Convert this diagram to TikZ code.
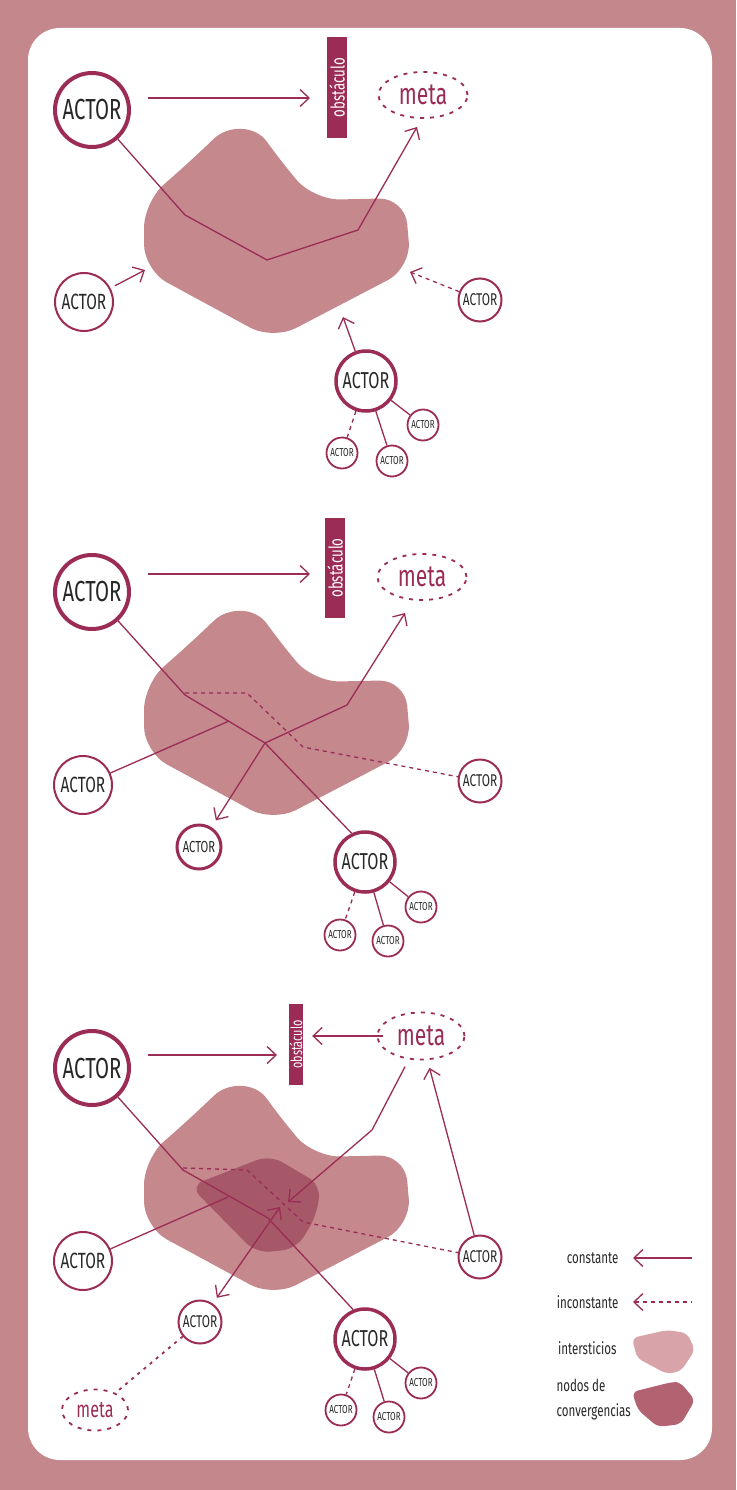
\documentclass[tikz,border=0pt]{standalone}
\usepackage{fontspec}
\usepackage{tikz}
\usetikzlibrary{calc,shapes.geometric,arrows.meta}

\definecolor{frame}{RGB}{196,136,140}
\definecolor{wine}{RGB}{155,44,86}
\definecolor{blobpink}{RGB}{196,136,141}
\definecolor{nodepink}{RGB}{166,88,104}
\definecolor{legendlight}{RGB}{216,163,169}
\definecolor{legenddark}{RGB}{178,98,112}
\definecolor{ink}{RGB}{40,40,40}

\newfontfamily\agency{Fira Sans}[FakeStretch=0.7]
\newcommand\fsz[1]{\agency\fontsize{#1}{#1}\selectfont}

% interstice shape, shifted down by #1
\newcommand\blob[1]{%
  \fill[blobpink,rounded corners=26pt,shift={(0,#1)}]
    (195,157) .. controls (228,125) and (255,125) .. (282,163) -- (314,200)
    -- (405,198) -- (411,268) -- (273,340) -- (144,270) -- (144,202) -- cycle;}

\begin{document}
\begin{tikzpicture}[x=1pt,y=-1pt,>={Straight Barb[length=9pt,width=17pt]},
    link/.style={wine,line width=1.3pt},
    dashlink/.style={link,dash pattern=on 4pt off 4pt},
    actor/.style={circle,draw=wine,fill=white,inner sep=0pt,text=ink},
    bigactor/.style={actor,line width=4pt,minimum size=74pt,font=\fsz{29}},
    midactor/.style={actor,line width=3.5pt,minimum size=60pt,font=\fsz{23}},
    sideactor/.style={actor,line width=2pt,minimum size=58pt,font=\fsz{22}},
    smallactor/.style={actor,line width=2pt,minimum size=43pt,font=\fsz{17}},
    tinyactor/.style={actor,line width=1.8pt,minimum size=31pt,font=\fsz{11.5}},
    metabox/.style={ellipse,draw=wine,line width=1.8pt,dash pattern=on 4pt off 6pt,
      text=wine,inner sep=0pt},
    obst/.style={rectangle,fill=wine,text=white,rotate=90,inner sep=0pt}]

    % --- 0. Frame ---
    \fill[frame] (0,0) rectangle (736,1490);
    \fill[white,rounded corners=32pt] (28,28) rectangle (712,1460);

    % --- 1. First stage ---
    \blob{0}

    \node[bigactor] (A1) at (92,110) {ACTOR};
    \node[obst,minimum width=101pt,minimum height=20pt,font=\fsz{19}] (Obs1) at (337,87.5) {obstáculo};
    \node[metabox,minimum width=89pt,minimum height=46pt,font=\fsz{30}] (Meta1) at (423,95) {meta};
    \node[sideactor] (L1) at (84,302) {ACTOR};
    \node[smallactor] (R1) at (480,300) {ACTOR};
    \node[midactor] (B1) at (366,381) {ACTOR};
    \node[tinyactor] (B1a) at (423,425) {ACTOR};
    \node[tinyactor] (B1b) at (392,461) {ACTOR};
    \node[tinyactor] (B1c) at (342,453) {ACTOR};

    \coordinate (Go1) at (148,98);
    \coordinate (Stop1) at (310,98);
    \coordinate (P1a) at (185,215);
    \coordinate (P1b) at (267,260);
    \coordinate (P1c) at (358,230);
    \coordinate (P1tip) at (417,127);
    \coordinate (In1L) at (145,270);
    \coordinate (In1R) at (410,272);
    \coordinate (In1B) at (343,317);

    \draw[link,->] (Go1) -- (Stop1);
    \draw[link,->] (A1) -- (P1a) -- (P1b) -- (P1c) -- (P1tip);
    \draw[link,->,shorten <=5pt] (L1) -- (In1L);
    \draw[dashlink,->] (R1) -- (In1R);
    \draw[link,->] (B1) -- (In1B);
    \draw[link] (B1) -- (B1a);
    \draw[link] (B1) -- (B1b);
    \draw[dashlink] (B1) -- (B1c);

    % --- 2. Second stage ---
    \blob{482}

    \node[bigactor] (A2) at (92,592) {ACTOR};
    \node[obst,minimum width=100pt,minimum height=20pt,font=\fsz{19}] (Obs2) at (335,568) {obstáculo};
    \node[metabox,minimum width=89pt,minimum height=46pt,font=\fsz{30}] (Meta2) at (422,577) {meta};
    \node[sideactor] (L2) at (83,785) {ACTOR};
    \node[smallactor] (R2) at (480,781) {ACTOR};
    \node[actor,line width=3pt,minimum size=44pt,font=\fsz{16}] (S2) at (199,847) {ACTOR};
    \node[midactor] (B2) at (365,862) {ACTOR};
    \node[tinyactor] (B2a) at (421,907) {ACTOR};
    \node[tinyactor] (B2b) at (388,941) {ACTOR};
    \node[tinyactor] (B2c) at (340,935) {ACTOR};

    \coordinate (Go2) at (148,574);
    \coordinate (Stop2) at (310,574);
    \coordinate (P2a) at (185,695);
    \coordinate (P2b) at (265,743);
    \coordinate (P2c) at (347,705);
    \coordinate (P2tip) at (405,613);
    \coordinate (P2l) at (229,721);
    \coordinate (Q2a) at (185,693);
    \coordinate (Q2b) at (247,693);
    \coordinate (Q2c) at (303,747);

    \draw[link,->] (Go2) -- (Stop2);
    \draw[link] (A2) -- (P2a) -- (P2b) -- (B2.115);
    \draw[link] (L2) -- (P2l);
    \draw[dashlink] (Q2a) -- (Q2b) -- (Q2c) -- (R2);
    \draw[link,<->,shorten <=8pt] (S2) -- (P2b) -- (P2c) -- (P2tip);
    \draw[link] (B2) -- (B2a);
    \draw[link] (B2) -- (B2b);
    \draw[dashlink] (B2) -- (B2c);

    % --- 3. Third stage ---
    \blob{957}
    \fill[nodepink,rounded corners=14pt]
      (190,1186) -- (270,1155) -- (321,1185) -- (316,1217) -- (296,1249) -- (256,1253) -- cycle;

    \node[bigactor] (A3) at (92,1068) {ACTOR};
    \node[obst,minimum width=81pt,minimum height=14pt,font=\fsz{15.5}] (Obs3) at (296,1044.5) {obstáculo};
    \node[metabox,minimum width=87pt,minimum height=47pt,font=\fsz{30}] (Meta3) at (421,1036) {meta};
    \node[sideactor] (L3) at (83,1261) {ACTOR};
    \node[smallactor] (R3) at (480,1257) {ACTOR};
    \node[smallactor] (S3) at (200,1322) {ACTOR};
    \node[metabox,minimum width=66pt,minimum height=41pt,font=\fsz{23}] (Meta3b) at (95,1410) {meta};
    \node[midactor] (B3) at (365,1339) {ACTOR};
    \node[tinyactor] (B3a) at (421,1383) {ACTOR};
    \node[tinyactor] (B3b) at (389,1417) {ACTOR};
    \node[tinyactor] (B3c) at (341,1410) {ACTOR};

    \coordinate (Go3) at (148,1055);
    \coordinate (Stop3) at (277,1055);
    \coordinate (P3a) at (183,1170);
    \coordinate (P3b) at (268,1218);
    \coordinate (P3l) at (228,1197);
    \coordinate (Q3a) at (183,1168);
    \coordinate (Q3b) at (247,1170);
    \coordinate (Q3c) at (303,1222);
    \coordinate (M3a) at (372,1130);
    \coordinate (M3tip) at (288,1202);
    \coordinate (Hub3) at (280,1207);

    \draw[link,->] (Go3) -- (Stop3);
    \draw[link,->,shorten <=-6pt,shorten >=9pt] (Meta3.west) -- (Meta3.west -| Obs3.south);
    \draw[link] (A3) -- (P3a) -- (P3b) -- (B3.112);
    \draw[link] (L3) -- (P3l);
    \draw[dashlink] (Q3a) -- (Q3b) -- (Q3c) -- (R3);
    \draw[link,->,shorten <=8pt] (Meta3) -- (M3a) -- (M3tip);
    \draw[link,->,shorten >=8pt] (R3) -- (Meta3);
    \draw[link,<->,shorten <=7pt] (S3) -- (Hub3);
    \draw[link,line width=1.8pt,dash pattern=on 3pt off 5pt] (S3) -- (Meta3b);
    \draw[link] (B3) -- (B3a);
    \draw[link] (B3) -- (B3b);
    \draw[dashlink] (B3) -- (B3c);

    % --- 4. Legend ---
    \node[anchor=east,text=ink,font=\fsz{16.5}] (LgC) at (622,1258) {constante};
    \node[anchor=east,text=ink,font=\fsz{16.5}] (LgI) at (622,1302) {inconstante};
    \node[anchor=east,text=ink,font=\fsz{16.5}] (LgS) at (620,1348) {intersticios};
    \node[anchor=west,text=ink,align=left,font={\agency\fontsize{16.5}{25}\selectfont}] (LgN) at (553,1400) {nodos de\\convergencias};

    \coordinate (LgCa) at (633,1258);
    \coordinate (LgCb) at (692,1258);
    \coordinate (LgIa) at (633,1302);
    \coordinate (LgIb) at (692,1302);
    \draw[link,<-] (LgCa) -- (LgCb);
    \draw[dashlink,<-] (LgIa) -- (LgIb);

    \fill[legendlight,rounded corners=6pt]
      (632,1338) -- (667,1330) -- (687,1333) -- (695,1350) -- (681,1371) -- (667,1374) -- (637,1358) -- cycle;
    \fill[legenddark,rounded corners=6pt]
      (632,1392) -- (672,1382) -- (680,1382) -- (695,1400) -- (681,1424) -- (658,1427) -- (638,1410) -- cycle;

\end{tikzpicture}
\end{document}
